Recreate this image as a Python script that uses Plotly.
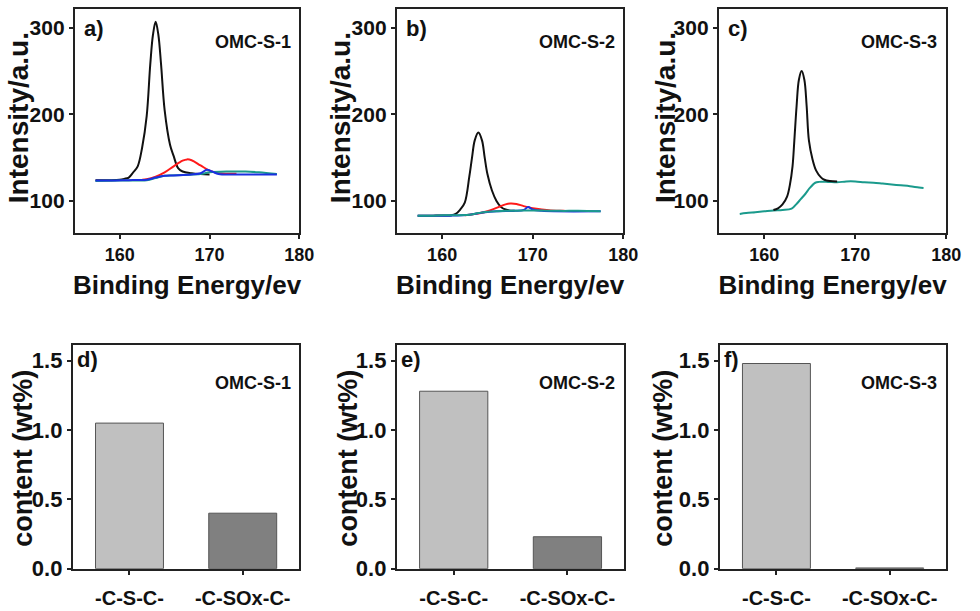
import plotly.graph_objects as go

# ---------------- S 2p spectra (binding energy in eV, intensity in a.u.) ----------------
# OMC-S-1
a_env_x = [157.3, 159, 160, 160.5, 161, 161.5, 162, 162.5, 163, 163.4, 163.7, 164.0,
           164.3, 164.6, 165, 165.6, 166, 166.5, 167, 168, 169, 170]
a_env_y = [124, 124, 124.5, 125.5, 127, 133, 140, 162, 198, 258, 292, 307,
           292, 258, 205, 165, 152, 138, 134, 132, 131, 130.5]
a_red_x = [162.5, 163, 164, 165, 166, 167, 167.5, 168, 169, 170, 171, 172, 173]
a_red_y = [124.5, 125, 128, 133, 140, 146.5, 148, 147, 141, 135, 132, 131.5, 131.5]
a_blue_x = [157.3, 159, 161, 163, 164, 165, 166, 168, 169, 169.7, 170.3, 171, 173, 175, 177.5]
a_blue_y = [123.5, 123.5, 124, 124.5, 127, 129, 129.5, 130.5, 132, 136, 134, 131, 130.5, 130.5, 130.5]
a_teal_x = [157.3, 160, 163, 164, 165, 167, 169, 170, 172, 174, 175.5, 177.5]
a_teal_y = [123, 123.5, 124, 126.5, 129, 130, 131, 133, 134, 134, 133, 131]

# OMC-S-2
b_env_x = [157.3, 159, 161, 161.5, 162, 162.5, 163, 163.3, 163.6, 164.0, 164.4, 164.7,
           165, 165.5, 166, 166.5, 167, 168]
b_env_y = [83, 83, 83.5, 85, 90, 98, 128, 150, 170, 179, 170, 150,
           131, 112, 100, 93, 90, 88.5]
b_red_x = [162.5, 163, 164, 165, 166, 167, 167.5, 168.2, 169, 170, 171, 172, 173.5]
b_red_y = [83.5, 84, 85.5, 88, 92, 96, 97, 96.5, 94, 91.5, 90, 89, 88.5]
b_blue_x = [157.3, 161, 163, 164.5, 166, 168, 169, 169.5, 170, 171, 177.5]
b_blue_y = [83, 83, 84, 86.5, 88, 88.5, 89.5, 93, 90, 88.5, 88]
b_teal_x = [157.3, 159, 161, 163, 164, 165, 167, 169, 171, 173, 175, 177.5]
b_teal_y = [83, 83, 83.5, 84, 86, 87.5, 88.5, 89, 89, 88.5, 88.5, 88]

# OMC-S-3
c_env_x = [161, 161.5, 162, 162.5, 162.8, 163.1, 163.3, 163.55, 163.8, 164.1, 164.4, 164.65,
           164.9, 165.3, 165.7, 166.2, 166.6, 167.2, 168]
c_env_y = [89.5, 91.5, 96, 105, 118, 140, 170, 210, 240, 250, 240, 210,
           170, 148, 135, 127.5, 124.5, 123, 122.5]
c_teal_x = [157.3, 158, 159, 160, 161, 162, 163, 163.5, 164, 164.5, 165, 165.6, 166, 167,
            168, 169, 170, 171, 172, 173, 174, 175, 176, 177, 177.5]
c_teal_y = [85, 86, 87, 88, 89, 89.5, 91, 96, 102, 108, 115, 121, 122, 122,
            121.5, 122.5, 122.5, 121.5, 121, 120, 119, 118, 117, 115.5, 115]

# ---------------- sulfur species content (wt%) ----------------
species = ["-C-S-C-", "-C-SOx-C-"]
content_s1 = [1.05, 0.40]
content_s2 = [1.28, 0.23]
content_s3 = [1.48, 0.005]

samples = ["OMC-S-1", "OMC-S-2", "OMC-S-3"]
top_tags = ["a)", "b)", "c)"]
bottom_tags = ["d)", "e)", "f)"]

FONT = "Liberation Sans, Arial, sans-serif"
BLACK, RED, BLUE, TEAL = "#111111", "#ff1a1a", "#1a2fe0", "#1a9a8c"
LIGHT_GREY, DARK_GREY = "#c0c0c0", "#808080"

W, H = 980, 611
top_x = [(76, 304), (403, 633), (730, 961)]
bot_x = [(74, 304), (403, 634), (731, 961)]
top_y = (9, 238)
bot_y = (353, 581)
# horizontal centres of the rotated y-axis titles (px)
top_title_x = [19, 346, 676]
bot_title_x = [23, 353, 673]


def xdom(px):
    return [px[0] / W, px[1] / W]


def ydom(py):
    return [1 - py[1] / H, 1 - py[0] / H]


fig = go.Figure()

spectra = [
    [(a_env_x, a_env_y, BLACK), (a_red_x, a_red_y, RED), (a_teal_x, a_teal_y, TEAL), (a_blue_x, a_blue_y, BLUE)],
    [(b_env_x, b_env_y, BLACK), (b_red_x, b_red_y, RED), (b_blue_x, b_blue_y, BLUE), (b_teal_x, b_teal_y, TEAL)],
    [(c_teal_x, c_teal_y, TEAL), (c_env_x, c_env_y, BLACK)],
]
contents = [content_s1, content_s2, content_s3]

axis_common = dict(showline=True, linecolor="#222222", linewidth=2, mirror=True,
                   ticks="outside", ticklen=4, tickwidth=1.5, tickcolor="#222222",
                   showgrid=False, zeroline=False)

layout = {}
annotations = []
for i in range(3):
    # spectra panel
    xi, yi = 2 * i + 1, 2 * i + 1
    xs = "x" if xi == 1 else f"x{xi}"
    ys = "y" if yi == 1 else f"y{yi}"
    for (x, y, col) in spectra[i]:
        fig.add_trace(go.Scatter(x=x, y=y, mode="lines", line=dict(color=col, width=2, shape="spline"),
                                 xaxis=xs, yaxis=ys, showlegend=False))
    layout["xaxis" if xi == 1 else f"xaxis{xi}"] = dict(
        axis_common, domain=xdom(top_x[i]), anchor=ys, range=[155, 180],
        tickvals=[160, 170, 180], ticktext=["<b>160</b>", "<b>170</b>", "<b>180</b>"],
        tickfont=dict(family=FONT, size=18, color="#111"),
        title=dict(text="<b>Binding Energy/ev</b>", font=dict(family=FONT, size=26, color="#111"), standoff=12))
    layout["yaxis" if yi == 1 else f"yaxis{yi}"] = dict(
        axis_common, domain=ydom(top_y), anchor=xs, range=[63, 322],
        tickvals=[100, 200, 300], ticktext=["<b>100</b>", "<b>200</b>", "<b>300</b>"],
        tickfont=dict(family=FONT, size=21, color="#111"))
    annotations.append(dict(text="<b>Intensity/a.u.</b>", xref="paper", yref="paper",
                            x=top_title_x[i] / W, y=1 - 120 / H, textangle=-90,
                            xanchor="center", yanchor="middle", showarrow=False,
                            font=dict(family=FONT, size=28, color="#111")))

    annotations.append(dict(text=f"<b>{top_tags[i]}</b>", xref=f"{xs} domain", yref=f"{ys} domain",
                            x=0.03, y=0.975, xanchor="left", yanchor="top", showarrow=False,
                            font=dict(family=FONT, size=22, color="#111")))
    annotations.append(dict(text=f"<b>{samples[i]}</b>", xref=f"{xs} domain", yref=f"{ys} domain",
                            x=0.97, y=0.905, xanchor="right", yanchor="top", showarrow=False,
                            font=dict(family=FONT, size=18, color="#111")))

    # content panel
    xj, yj = 2 * i + 2, 2 * i + 2
    xs2, ys2 = f"x{xj}", f"y{yj}"
    fig.add_trace(go.Bar(x=species, y=contents[i], width=0.6,
                         marker=dict(color=[LIGHT_GREY, DARK_GREY], line=dict(color="#555555", width=1)),
                         xaxis=xs2, yaxis=ys2, showlegend=False))
    layout[f"xaxis{xj}"] = dict(
        axis_common, domain=xdom(bot_x[i]), anchor=ys2, type="category", range=[-0.5, 1.5],
        tickvals=species, ticktext=[f"<b>{s}</b>" for s in species], ticklabelstandoff=6,
        tickfont=dict(family=FONT, size=20, color="#111"))
    layout[f"yaxis{yj}"] = dict(
        axis_common, domain=ydom(bot_y), anchor=xs2, range=[0, 1.61],
        tickvals=[0, 0.5, 1.0, 1.5], ticktext=["<b>0.0</b>", "<b>0.5</b>", "<b>1.0</b>", "<b>1.5</b>"],
        tickfont=dict(family=FONT, size=22, color="#111"))
    annotations.append(dict(text="<b>content (wt%)</b>", xref="paper", yref="paper",
                            x=bot_title_x[i] / W, y=1 - 468 / H, textangle=-90,
                            xanchor="center", yanchor="middle", showarrow=False,
                            font=dict(family=FONT, size=27, color="#111")))
    annotations.append(dict(text=f"<b>{bottom_tags[i]}</b>", xref=f"{xs2} domain", yref=f"{ys2} domain",
                            x=0.01, y=1.0, xanchor="left", yanchor="top", showarrow=False,
                            font=dict(family=FONT, size=22, color="#111")))
    annotations.append(dict(text=f"<b>{samples[i]}</b>", xref=f"{xs2} domain", yref=f"{ys2} domain",
                            x=0.97, y=0.885, xanchor="right", yanchor="top", showarrow=False,
                            font=dict(family=FONT, size=18, color="#111")))

fig.update_layout(**layout)
fig.update_layout(
    width=W, height=H, margin=dict(l=0, r=0, t=0, b=0),
    paper_bgcolor="white", plot_bgcolor="white",
    annotations=annotations, bargap=0.4,
    font=dict(family=FONT, color="#111"),
)

fig.write_html("out.html")
